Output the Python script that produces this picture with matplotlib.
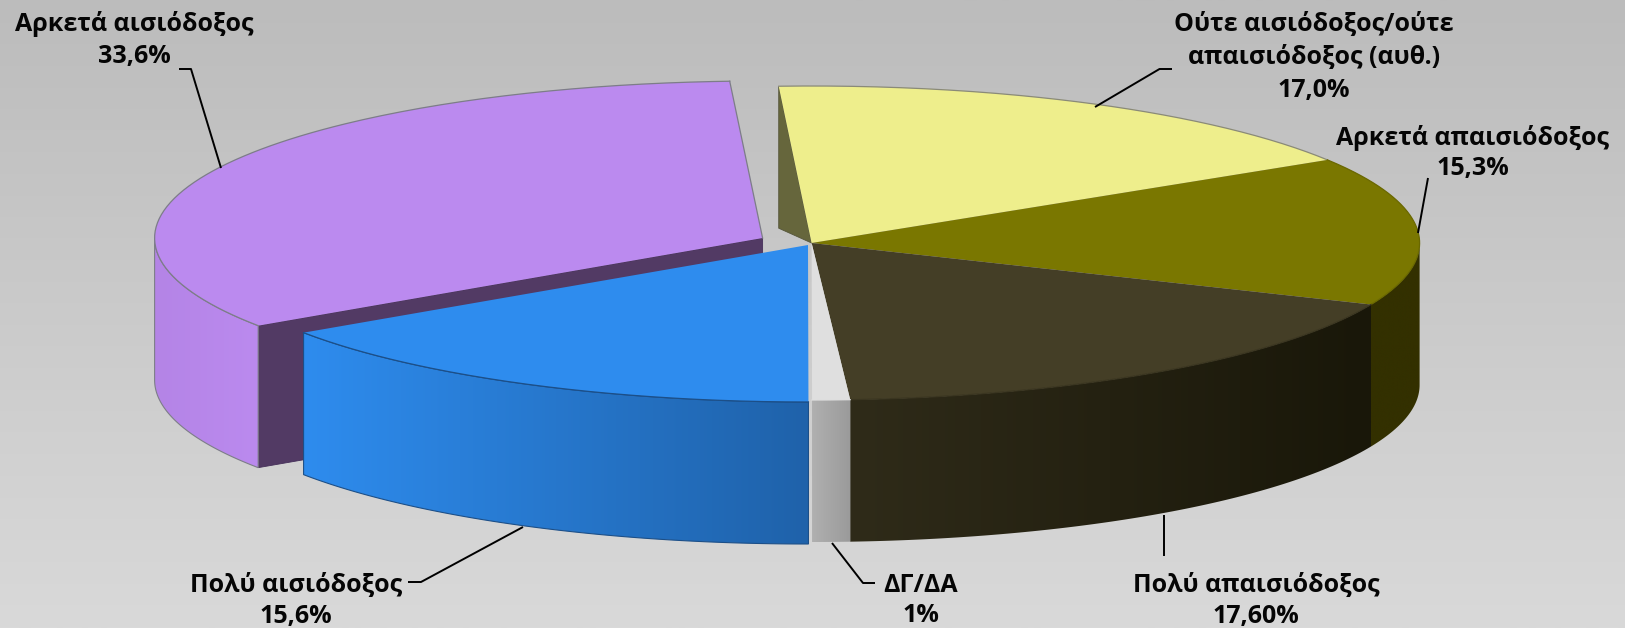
import numpy as np
import matplotlib
matplotlib.use("Agg")
import matplotlib.pyplot as plt
from matplotlib.colors import LinearSegmentedColormap
from matplotlib.patches import Polygon

# ---- data (clockwise from the yellow slice) ----
names = ["Ούτε αισιόδοξος/ούτε\nαπαισιόδοξος (αυθ.)", "Αρκετά απαισιόδοξος", "Πολύ απαισιόδοξος",
         "ΔΓ/ΔΑ", "Πολύ αισιόδοξος", "Αρκετά αισιόδοξος"]
values = [17.0, 15.3, 17.6, 1.0, 15.6, 33.6]
value_labels = ["17,0%", "15,3%", "17,60%", "1%", "15,6%", "33,6%"]

# ---- styles ----
top_colors = ["#eeee8c", "#7a7700", "#443e26", "#dfdfdf", "#2e8cee", "#bb8aef"]
wall_left = ["#66663c", "#333000", "#2f2b19", "#b0b0b0", "#2e8cee", "#b484e6"]
wall_right = ["#66663c", "#333000", "#191709", "#9a9a9a", "#1f62aa", "#bb8aef"]
cut_color = "#523a64"
explode = [(0, 0), (0, 0), (0, 0), (0, 0), (-3.6, 2.0), (-49, -5)]
arc_edges = ["#8a8a78", "#6a6800", "#3a3520", "#dfdfdf", "#1c4f88", "#7d7d88"]
wall_edges = [None, None, None, None, "#1c4f88", "#7d7d88"]

W, H = 1625, 628
CX, CY, RX, RY, DEPTH = 811.6, 243.0, 608.0, 157.0, 142.0
START = -3.1

label_pos = [(1314, [24, 57, 91]), (1472.6, [138, 169]), (1256, [585, 616]),
             (920.5, [585, 616]), (296, [585, 616]), (134, [24, 56])]
leaders = [[(1172, 69), (1159.5, 69), (1095, 107)],
           [(1428, 178), (1418, 233)],
           [(1164, 556), (1164, 515)],
           [(875, 583), (863, 583), (832, 543)],
           [(408, 582), (421, 582), (523, 527)],
           [(179, 69), (191, 69), (221, 168)]]

fig = plt.figure(figsize=(W / 100, H / 100), dpi=100)
ax = fig.add_axes([0, 0, 1, 1])
ax.set_axis_off()

bg = LinearSegmentedColormap.from_list("bg", ["#bcbcbc", "#d9d9d9"])
ax.imshow(np.linspace(0, 1, 256)[:, None], cmap=bg, extent=(0, W, H, 0), aspect="auto", zorder=0)


def rim(t, off):
    t = np.radians(t)
    return np.column_stack([CX + off[0] + RX * np.sin(t), CY + off[1] - RY * np.cos(t)])


def gradient_wall(a0, a1, off, c_left, c_right, edge, z):
    arc = rim(np.linspace(a0, a1, 80), off)
    low = arc + [0, DEPTH]
    poly = np.vstack([arc, low[::-1]])
    x0, x1 = poly[:, 0].min(), poly[:, 0].max()
    y0, y1 = poly[:, 1].min(), poly[:, 1].max()
    patch = Polygon(poly, closed=True, facecolor="none", edgecolor="none", zorder=z)
    ax.add_patch(patch)
    cm = LinearSegmentedColormap.from_list("w", [c_left, c_right])
    im = ax.imshow(np.linspace(0, 1, 256)[None, :], cmap=cm, extent=(x0, x1, y1, y0),
                   aspect="auto", zorder=z)
    im.set_clip_path(patch)
    if edge:
        ax.add_patch(Polygon(poly, closed=True, facecolor="none", edgecolor=edge, lw=0.8, zorder=z + 0.01))


def top(a0, a1, off, color, edge, z):
    arc = rim(np.linspace(a0, a1, 160), off)
    apex = np.array([[CX + off[0], CY + off[1]]])
    ax.add_patch(Polygon(np.vstack([apex, arc]), closed=True, facecolor=color,
                         edgecolor="none", lw=0, zorder=z))
    ax.plot(arc[:, 0], arc[:, 1], color=edge, lw=0.9, zorder=z + 0.01)
    return arc, apex


shares = np.array(values) / sum(values) * 360.0
ends = START + np.cumsum(shares)
starts = ends - shares

# drawing depth: back/right slices first, then purple, then the front-left blue
z_order = {0: 3, 1: 4, 2: 5, 3: 6, 5: 7, 4: 8}

# inner wall of the yellow slice, seen through the gap
rim0 = rim(np.array([starts[0]]), explode[0])[0]
ax.add_patch(Polygon([rim0, (CX, CY), rim0 + [0, DEPTH]], closed=True,
                     facecolor=wall_left[0], edgecolor="#55553a", lw=0.6, zorder=2))

# inner (cut) wall of the purple slice
off = explode[5]
corner = rim(np.array([starts[5]]), off)[0]
apex = np.array([CX + off[0], CY + off[1]])
ax.add_patch(Polygon([corner, apex, apex + [0, DEPTH], corner + [0, DEPTH]], closed=True,
                     facecolor=cut_color, edgecolor="#46305a", lw=0.6, zorder=z_order[5] - 0.5))

for i in range(6):
    a0, a1 = starts[i], ends[i]
    z = z_order[i]
    wall_start, wall_end = max(a0, 90), min(a1, 270)
    if wall_start < wall_end:
        gradient_wall(wall_start, wall_end, explode[i], wall_left[i], wall_right[i], wall_edges[i], z)
    arc, ap = top(a0, a1, explode[i], top_colors[i], arc_edges[i], z + 0.1)
    if i == 5:
        ax.plot([ap[0, 0], arc[-1, 0]], [ap[0, 1], arc[-1, 1]], color=arc_edges[i], lw=0.9, zorder=z + 0.2)

plt.rcParams["font.family"] = ["Open Sans", "DejaVu Sans"]
for i in range(6):
    x, ys = label_pos[i]
    lines = names[i].split("\n") + [value_labels[i]]
    for line, y in zip(lines, ys):
        ax.text(x, y, line, ha="center", va="center", fontsize=18, fontweight="bold",
                color="#050505", zorder=20)
    pts = np.array(leaders[i])
    ax.plot(pts[:, 0], pts[:, 1], color="black", lw=1.4, zorder=19, solid_capstyle="butt")

ax.set_xlim(0, W)
ax.set_ylim(H, 0)
fig.savefig("out.png", dpi=100)
